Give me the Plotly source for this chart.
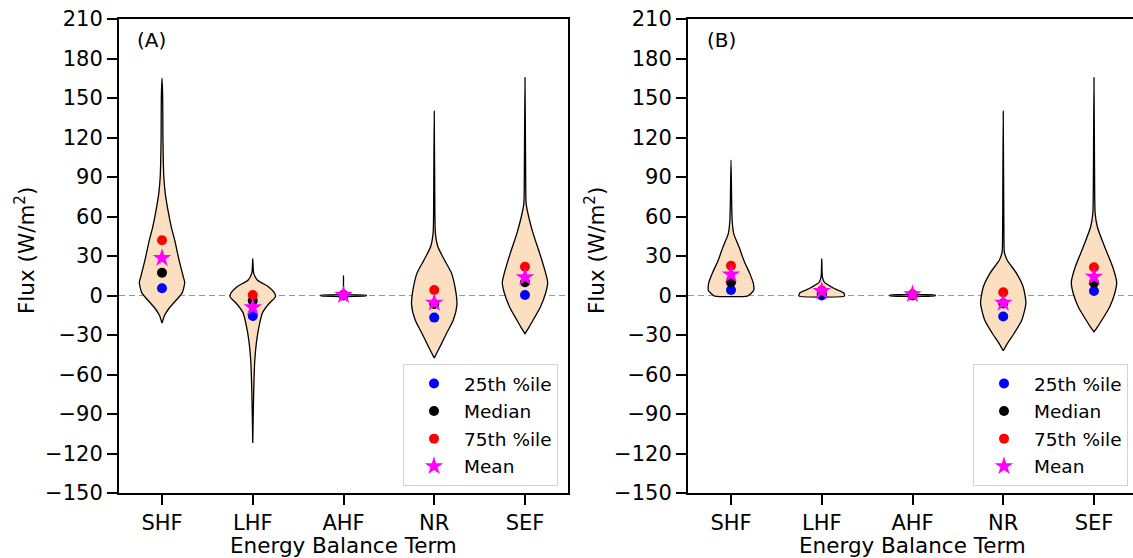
import plotly.graph_objects as go

categories = ["SHF", "LHF", "AHF", "NR", "SEF"]

# Summary statistics (W/m^2)
a_p25 = [5.5, -15.6, 0.0, -16.8, 0.4]
a_med = [17.3, -4.0, 0.3, -6.5, 10.0]
a_p75 = [42.0, 0.4, 0.5, 4.2, 21.9]
a_mean = [28.5, -9.0, 0.4, -5.5, 13.8]

b_p25 = [4.2, 0.0, 0.0, -16.0, 3.4]
b_med = [10.0, 1.5, 0.5, -6.0, 9.7]
b_p75 = [22.6, 3.8, 1.0, 2.4, 21.4]
b_mean = [16.0, 3.3, 1.0, -5.5, 14.3]

# Violin outlines: flux levels and relative density (1 = widest point)
a_shf_y = [165, 150, 120, 100, 90, 78, 65, 52, 42, 27, 14, 10, 2, -3.4, -9.5, -14.8, -21]
a_shf_d = [0, 0.03, 0.04, 0.06, 0.08, 0.14, 0.26, 0.41, 0.56, 0.75, 0.94, 1.0, 0.89, 0.63, 0.32, 0.12, 0]
a_lhf_y = [28, 17, 11.8, 6.5, 1.9, -1, -5.7, -13, -24, -36, -49, -74, -112]
a_lhf_d = [0, 0.04, 0.2, 0.7, 0.96, 1.0, 0.74, 0.43, 0.27, 0.16, 0.09, 0.04, 0]
a_ahf_y = [14.8, 2, 0.8, 0.3, -0.3, -0.8, -1.5]
a_ahf_d = [0, 0.02, 0.1, 1.0, 1.0, 0.1, 0]
a_nr_y = [140, 60, 47.4, 37, 27, 17, 4, -7, -18.6, -28.5, -39, -44, -47.5]
a_nr_d = [0, 0.03, 0.05, 0.16, 0.45, 0.76, 0.94, 1.0, 0.84, 0.55, 0.25, 0.1, 0]
a_sef_y = [165.5, 90, 70, 60, 47, 32, 17, 10, 1.9, -8.7, -18.6, -24, -29]
a_sef_d = [0, 0.03, 0.05, 0.16, 0.36, 0.65, 0.91, 1.0, 0.91, 0.68, 0.36, 0.18, 0]

b_shf_y = [103, 70, 57, 47, 37, 27, 17, 9.5, 4, 0.4, -0.5]
b_shf_d = [0, 0.03, 0.05, 0.12, 0.35, 0.56, 0.82, 0.98, 1.0, 0.80, 0.72]
b_lhf_y = [28, 14, 10, 6.5, 4, 1.9, 0.4, -0.5]
b_lhf_d = [0, 0.03, 0.12, 0.43, 0.72, 0.97, 1.0, 1.0]
b_ahf_y = [3, 1, 0.3, -0.3, -0.8, -1.2]
b_ahf_d = [0, 0.1, 1.0, 1.0, 0.1, 0]
b_nr_y = [140, 45, 33, 27, 17, 6.5, -5.7, -18.6, -28.5, -36, -42]
b_nr_d = [0, 0.03, 0.05, 0.17, 0.58, 0.88, 1.0, 0.82, 0.49, 0.2, 0]
b_sef_y = [165.5, 80, 62.6, 52, 37, 22, 10, 1.9, -8.7, -18.6, -24, -27.6]
b_sef_d = [0, 0.03, 0.05, 0.15, 0.47, 0.82, 1.0, 0.92, 0.69, 0.35, 0.15, 0]

panel_a_violins = [(a_shf_y, a_shf_d), (a_lhf_y, a_lhf_d), (a_ahf_y, a_ahf_d),
                   (a_nr_y, a_nr_d), (a_sef_y, a_sef_d)]
panel_b_violins = [(b_shf_y, b_shf_d), (b_lhf_y, b_lhf_d), (b_ahf_y, b_ahf_d),
                   (b_nr_y, b_nr_d), (b_sef_y, b_sef_d)]

yticks = list(range(-150, 211, 30))

FONT = "DejaVu Sans"
HALF_WIDTH = 0.25
FILL = "#FCDFC0"

fig = go.Figure()


def add_violins(violins, xa, ya):
    for i, (ys, ds) in enumerate(violins):
        xs = [i + HALF_WIDTH * d for d in ds] + [i - HALF_WIDTH * d for d in reversed(ds)]
        yy = list(ys) + list(reversed(ys))
        fig.add_trace(go.Scatter(
            x=xs, y=yy, mode="lines", fill="toself", fillcolor=FILL,
            line=dict(color="black", width=1.3, shape="spline", smoothing=0.6),
            xaxis=xa, yaxis=ya, showlegend=False, hoverinfo="skip"))


def add_points(stats, xa, ya, legend, grp):
    names = ["25th %ile", "Median", "75th %ile", "Mean"]
    colors = ["blue", "black", "red", "magenta"]
    symbols = ["circle", "circle", "circle", "star"]
    sizes = [10, 10, 10, 14]
    for k, vals in enumerate(stats):
        fig.add_trace(go.Scatter(
            x=list(range(len(categories))), y=vals, mode="markers", name=names[k],
            marker=dict(color=colors[k], symbol=symbols[k], size=sizes[k], line=dict(width=0)),
            xaxis=xa, yaxis=ya, legend=legend, legendgroup=grp + str(k)))


add_violins(panel_a_violins, "x", "y")
add_violins(panel_b_violins, "x2", "y2")
add_points([a_p25, a_med, a_p75, a_mean], "x", "y", "legend", "a")
add_points([b_p25, b_med, b_p75, b_mean], "x2", "y2", "legend2", "b")

W, H = 1133, 558
ML, MT, MB = 0, 19, 65
plot_h = H - MT - MB

axis_common = dict(showline=True, linecolor="black", linewidth=2, ticks="outside",
                   ticklen=10, tickwidth=2, tickcolor="black", showgrid=False,
                   zeroline=False, tickfont=dict(family=FONT, size=21, color="black"))

legend_common = dict(xanchor="right", y=(493 - 486) / plot_h, yanchor="bottom",
                     bgcolor="rgba(255,255,255,0.8)", bordercolor="#d3d3d3", borderwidth=1,
                     font=dict(family=FONT, size=18.5, color="black"), traceorder="grouped",
                     tracegroupgap=0.5, itemwidth=50)

fig.update_layout(
    width=W, height=H, margin=dict(l=ML, r=0, t=MT, b=MB),
    paper_bgcolor="white", plot_bgcolor="white",
    font=dict(family=FONT, color="black"),
    xaxis=dict(domain=[119 / W, 568 / W], range=[-0.474, 4.474], tickvals=list(range(5)),
               ticktext=categories, mirror=True, anchor="y", **axis_common),
    yaxis=dict(domain=[0, 1], range=[-150, 210], tickvals=yticks, mirror=True,
               anchor="x", **axis_common),
    xaxis2=dict(domain=[688 / W, 1.0], range=[-0.474, 4.43], tickvals=list(range(5)),
                ticktext=categories, mirror=True, anchor="y2", **axis_common),
    yaxis2=dict(domain=[0, 1], range=[-150, 210], tickvals=yticks, mirror=False,
                anchor="x2", **axis_common),
    legend=dict(x=558 / W, **legend_common),
    legend2=dict(x=1128 / W, **legend_common),
    showlegend=True,
)

for xd, ya in [("x domain", "y"), ("x2 domain", "y2")]:
    fig.add_shape(type="line", xref=xd, yref=ya, x0=0, x1=1, y0=0, y1=0,
                  line=dict(color="#999999", width=1.2, dash="6px,4px"), layer="below")

ann_font = dict(family=FONT, size=21.5, color="black")
for cx, lx, lbl, px in [(343.5, 25, "(A)", 135), (912.5, 595, "(B)", 705)]:
    fig.add_annotation(text="Energy Balance Term", xref="paper", yref="paper",
                       x=cx / W, y=(493 - 545) / plot_h, showarrow=False, font=ann_font,
                       xanchor="center", yanchor="middle")
    fig.add_annotation(text="Flux (W/m<sup>2</sup>)", xref="paper", yref="paper",
                       x=lx / W, y=(493 - 251) / plot_h, showarrow=False, font=ann_font,
                       textangle=-90, xanchor="center", yanchor="middle")
    fig.add_annotation(text=lbl, xref="paper", yref="paper", x=px / W, y=(493 - 40) / plot_h,
                       showarrow=False, font=dict(family=FONT, size=20, color="black"),
                       xanchor="left", yanchor="middle")

fig.write_html("out.html")
